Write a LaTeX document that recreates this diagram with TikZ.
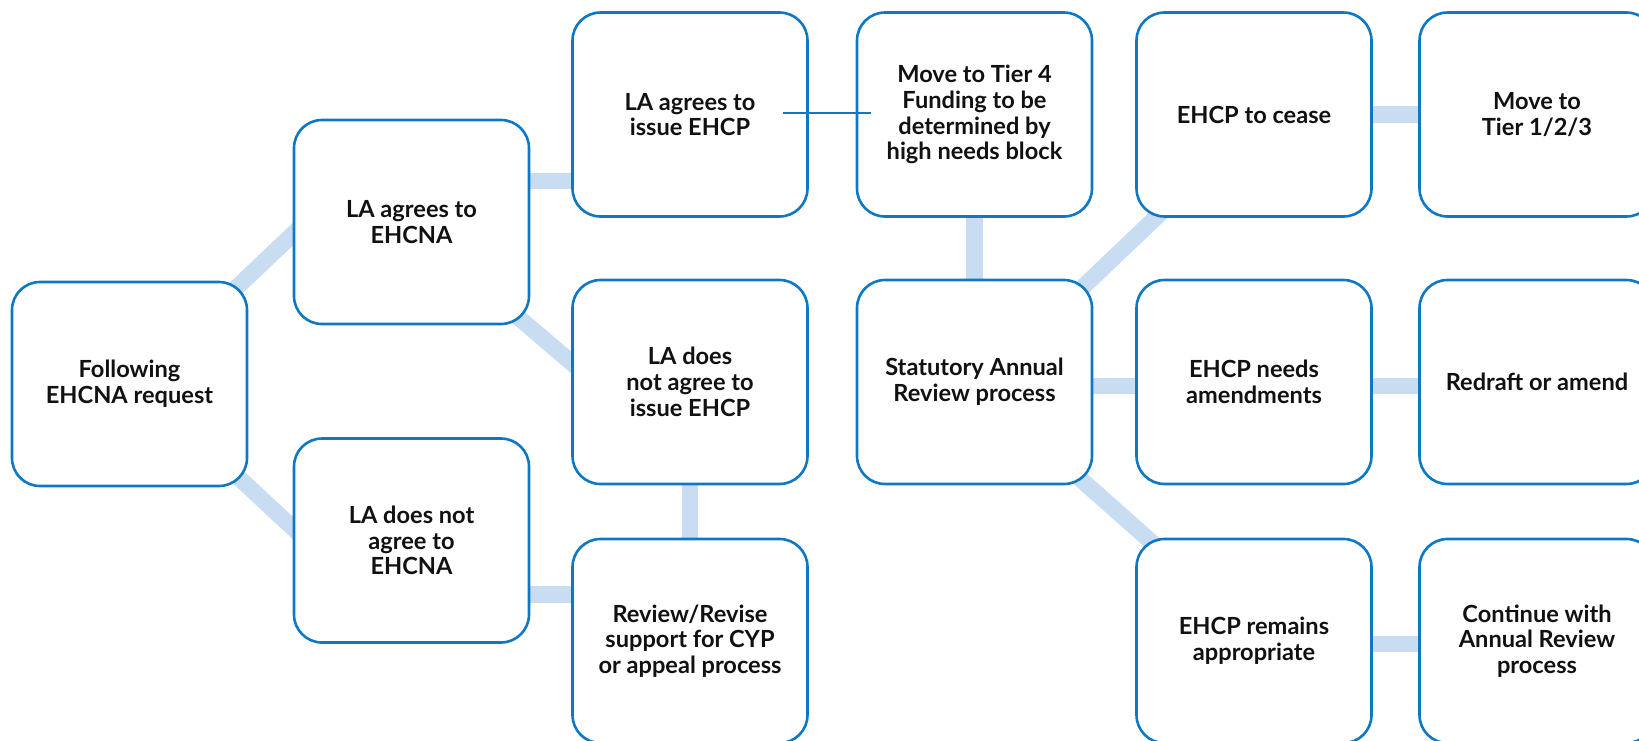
\documentclass[tikz,border=0pt]{standalone}
\usepackage{fontspec}
\setmainfont{Lato}
\usetikzlibrary{backgrounds}
\definecolor{bordblue}{RGB}{14,120,196}
\definecolor{bandblue}{RGB}{200,220,242}
\definecolor{txtcol}{RGB}{17,17,17}
\begin{document}
\begin{tikzpicture}[x=1pt,y=-1pt,
  box/.style={draw=bordblue, line width=2.6pt, fill=white, rounded corners=28pt,
    minimum width=235pt, minimum height=204pt, align=center, inner sep=0pt, outer sep=0pt,
    font=\fontsize{23.6}{25.8}\selectfont\bfseries, text=txtcol},
  band/.style={draw=bandblue, line width=16.5pt},
  thinlink/.style={draw=bordblue, line width=2pt}]
\useasboundingbox (0,0) rectangle (1639,740);
\clip (0,0) rectangle (1639,740);
\node[box] (n1) at (129.5,384) {Following\\EHCNA request};
\node[box] (n2) at (411.5,222) {LA agrees to\\EHCNA};
\node[box] (n3) at (411.5,540.5) {LA does not\\agree to\\EHCNA};
\node[box] (n4) at (690,114.5) {LA agrees to\\issue EHCP};
\node[box] (n5) at (690,382) {LA does\\not agree to\\issue EHCP};
\node[box] (n6) at (690,641) {Review/Revise\\support for CYP\\or appeal process};
\node[box] (n7) at (974.5,114.5) {Move to Tier 4\\Funding to be\\determined by\\high needs block};
\node[box] (n8) at (974.5,382) {Statutory Annual\\Review process};
\node[box] (n9) at (1254,114.5) {EHCP to cease};
\node[box] (n10) at (1254,382) {EHCP needs\\amendments};
\node[box] (n11) at (1254,641) {EHCP remains\\appropriate};
\node[box] (n12) at (1537,114.5) {Move to\\Tier 1/2/3};
\node[box] (n13) at (1537,382) {Redraft or amend};
\node[box] (n14) at (1537,641) {Continue with\\Annual Review\\process};
\begin{scope}[on background layer]
\draw[band] ([shift={(95.5,-85.5)}]n1.center) -- ([shift={(-101.5,-4)}]n2.center);
\draw[band] ([shift={(98.5,83.5)}]n1.center) -- ([shift={(-101.5,3.5)}]n3.center);
\draw[band] ([shift={(90,-41)}]n2.center) -- ([shift={(-90,66.5)}]n4.center);
\draw[band] ([shift={(96.5,86.5)}]n2.center) -- ([shift={(-100,-3.5)}]n5.center);
\draw[band] ([shift={(90,54)}]n3.center) -- ([shift={(-90,-46.5)}]n6.center);
\draw[band] (n5.center) -- (n6.center);
\draw[band] (n7.center) -- (n8.center);
\draw[band] ([shift={(95.5,-82.6)}]n8.center) -- ([shift={(-84,89.5)}]n9.center);
\draw[band] ([shift={(90,4)}]n8.center) -- ([shift={(-90,4)}]n10.center);
\draw[band] ([shift={(93.5,86)}]n8.center) -- ([shift={(-89,-87)}]n11.center);
\draw[band] (n9.center) -- (n12.center);
\draw[band] ([shift={(90,4)}]n10.center) -- ([shift={(-90,4)}]n13.center);
\draw[band] ([shift={(90,3)}]n11.center) -- ([shift={(-90,3)}]n14.center);
\end{scope}
\draw[thinlink] ([shift={(-24.5,-1.5)}]n4.east) -- ([shift={(14,-1.5)}]n7.west);
\end{tikzpicture}
\end{document}
